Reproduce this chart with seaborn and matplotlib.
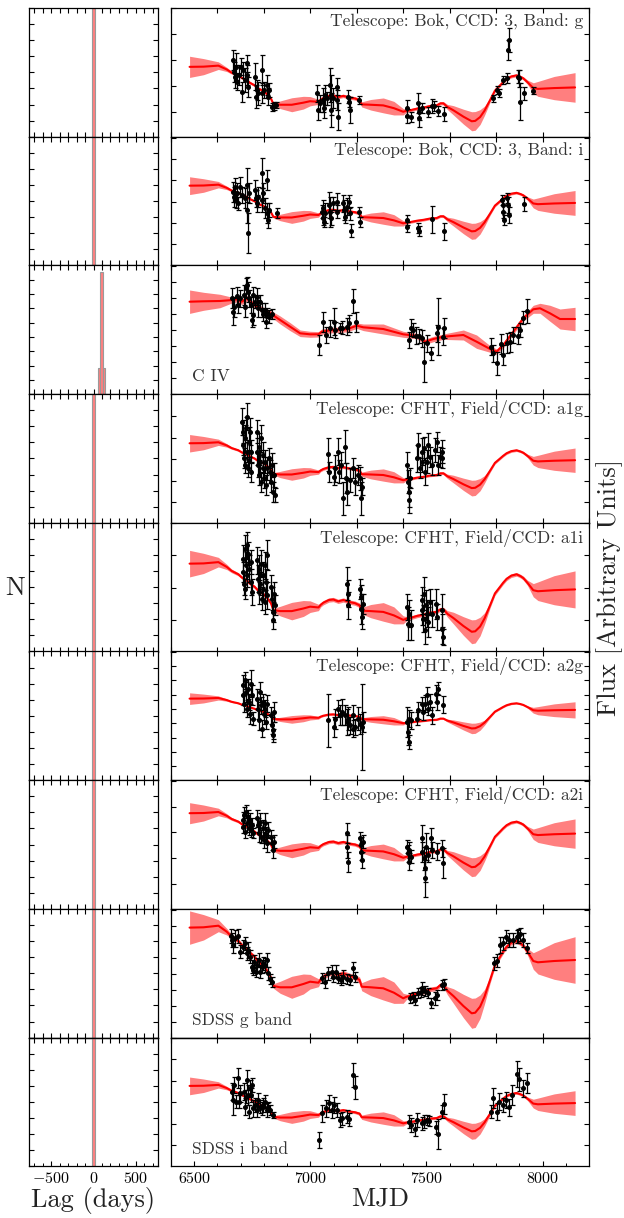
import numpy as np
import pandas as pd
import matplotlib
matplotlib.use("Agg")
import matplotlib.pyplot as plt
from matplotlib.ticker import MultipleLocator, NullFormatter
import seaborn as sns

# ---------------- driving continuum model (mean, 1-sigma), SDSS g flux units ----------------
model_mjd = [6480, 6540, 6604, 6640, 6661, 6690, 6705, 6725, 6740, 6760, 6776, 6795, 6812, 6830, 6841,
             6870, 6920, 6970, 6999, 7035, 7045, 7056, 7080, 7099, 7120, 7142, 7170, 7192, 7212, 7221,
             7260, 7314, 7360, 7400, 7415, 7429, 7460, 7487, 7515, 7544, 7560, 7573, 7590, 7616, 7659,
             7695, 7710, 7731, 7750, 7774, 7795, 7817, 7830, 7845, 7865, 7888, 7905, 7917, 7935, 7960,
             7980, 8050, 8140]
model_flux = [11.00, 11.03, 11.19, 10.59, 10.09, 9.66, 9.26, 8.93, 8.49, 8.09, 7.59, 7.26, 6.76, 6.03, 5.16,
              5.03, 5.03, 5.36, 5.59, 5.49, 5.83, 6.09, 6.43, 6.49, 6.26, 6.43, 6.16, 6.03, 5.76, 5.09,
              5.03, 4.93, 4.49, 3.93, 4.09, 4.16, 4.43, 4.59, 4.83, 4.93, 5.26, 5.26, 4.69, 4.16, 3.16,
              2.43, 2.49, 3.09, 4.09, 5.76, 7.26, 8.09, 8.59, 9.09, 9.49, 9.66, 9.43, 9.19, 8.59, 7.66,
              7.53, 7.66, 7.76]
model_sigma = [1.67, 1.27, 0.60, 0.33, 0.23, 0.20, 0.20, 0.20, 0.20, 0.20, 0.20, 0.20, 0.20, 0.20, 0.23,
               0.60, 1.10, 1.00, 0.73, 0.40, 0.27, 0.27, 0.27, 0.27, 0.27, 0.27, 0.27, 0.27, 0.30, 0.40,
               0.83, 1.17, 1.07, 0.50, 0.25, 0.23, 0.23, 0.23, 0.23, 0.23, 0.23, 0.25, 0.40, 0.73, 1.17,
               1.50, 1.47, 1.17, 0.73, 0.33, 0.25, 0.23, 0.23, 0.23, 0.23, 0.23, 0.23, 0.25, 0.33, 0.83,
               1.17, 1.83, 2.33]

# ---------------- C IV line model ----------------
civ_model_mjd = [6480, 6540, 6611, 6661, 6683, 6705, 6726, 6755, 6783, 6827, 6870, 6913, 6956, 6999, 7035,
                 7049, 7085, 7157, 7200, 7228, 7314, 7400, 7458, 7494, 7530, 7573, 7659, 7716, 7774, 7802,
                 7831, 7874, 7917, 7960, 7989, 8032, 8075, 8140]
civ_model_flux = [9.24, 9.28, 9.31, 9.40, 9.48, 9.24, 9.58, 8.98, 8.58, 8.08, 7.41, 6.74, 6.08, 5.98, 5.98,
                  6.24, 6.38, 6.48, 6.84, 6.68, 6.51, 5.98, 5.81, 5.24, 5.51, 5.74, 5.91, 5.24, 4.51, 4.24,
                  4.91, 6.24, 7.58, 8.48, 8.58, 8.08, 7.51, 7.51]
civ_model_sigma = [1.17, 0.90, 0.67, 0.30, 0.27, 0.27, 0.27, 0.27, 0.27, 0.30, 0.40, 0.40, 0.33, 0.30, 0.27,
                   0.27, 0.27, 0.27, 0.27, 0.33, 0.50, 0.30, 0.27, 0.27, 0.27, 0.27, 0.50, 0.67, 0.33, 0.27,
                   0.27, 0.27, 0.27, 0.40, 0.50, 0.80, 1.00, 1.17]

# ---------------- lag posterior histograms ----------------
cont_lag_edges = [-12, 20]
cont_lag_counts = [800]
civ_lag_edges = [54, 75, 117, 138]
civ_lag_counts = [180, 856, 182]

# ---------------- photometry ----------------
bok_g_mjd = [6668, 6671, 6675, 6680, 6685, 6694, 6700, 6704, 6708, 6718, 6726, 6729, 6733, 6761, 6764,
             6769, 6776, 6790, 6794, 6800, 6812, 6816, 6820, 6833, 6843, 6852,
             7030, 7034, 7042, 7056, 7059, 7063, 7070, 7085, 7088, 7089, 7099, 7113, 7116, 7121, 7164,
             7168, 7171, 7211, 7415, 7418, 7433, 7465, 7468, 7469, 7479, 7508, 7522, 7532, 7551, 7577,
             7788, 7802, 7814, 7831, 7848, 7852, 7855, 7895, 7900, 7905, 7920, 7960]
bok_g_flux = [7.67, 6.50, 6.00, 7.00, 5.50, 6.17, 7.00, 4.50, 6.67, 5.67, 6.17, 7.34, 5.00, 6.00, 4.00,
              4.67, 4.34, 6.67, 4.34, 4.67, 5.17, 4.00, 4.67, 3.00, 3.07, 3.17,
              4.34, 2.67, 3.34, 3.67, 2.84, 4.17, 3.84, 5.17, 2.67, 4.17, 3.84, 5.00, 3.67, 2.00, 4.00,
              3.50, 2.67, 3.67, 2.84, 2.07, 2.00, 3.34, 2.50, 1.84, 2.84, 2.50, 3.07, 3.07, 2.60, 2.27,
              3.84, 4.67, 4.40, 5.67, 5.84, 8.67, 9.67, 6.00, 5.84, 3.50, 4.34, 4.60]
bok_g_err = [1.00, 1.00, 1.17, 1.33, 0.83, 1.00, 0.83, 1.00, 0.83, 1.17, 1.00, 0.83, 1.00, 1.33, 1.17,
             1.00, 1.17, 1.50, 1.00, 0.83, 1.00, 0.83, 0.67, 0.40, 0.40, 0.33,
             0.83, 1.00, 0.83, 1.17, 1.00, 1.00, 0.67, 1.67, 1.67, 2.00, 1.00, 0.83, 1.00, 1.33, 0.67,
             0.50, 1.33, 0.40, 0.83, 0.67, 0.50, 1.00, 0.83, 0.83, 0.50, 0.50, 0.67, 0.50, 0.50, 0.67,
             0.33, 0.40, 0.40, 0.40, 0.50, 1.00, 1.17, 0.67, 0.83, 1.83, 0.67, 0.33]

bok_i_mjd = [6668, 6671, 6675, 6680, 6685, 6690, 6697, 6704, 6718, 6726, 6729, 6733, 6737, 6761, 6766,
             6771, 6776, 6790, 6793, 6797, 6804, 6812, 6815, 6819, 6823, 6855,
             7049, 7053, 7056, 7059, 7063, 7082, 7085, 7089, 7096, 7113, 7116, 7142, 7146, 7149, 7156,
             7168, 7171, 7174, 7211, 7214, 7415, 7418, 7465, 7468, 7522, 7577, 7824, 7828, 7831, 7834,
             7848, 7852, 7855, 7920]
bok_i_flux = [7.37, 6.87, 7.87, 6.54, 7.20, 6.20, 7.87, 7.04, 6.70, 8.04, 5.54, 3.20, 7.20, 7.54, 6.70,
              6.20, 6.87, 9.20, 6.54, 7.20, 5.70, 8.54, 5.20, 4.54, 5.54, 5.20,
              5.37, 4.70, 5.70, 4.37, 5.20, 6.04, 5.37, 4.70, 6.20, 6.37, 5.37, 6.20, 5.54, 4.87, 5.87,
              6.37, 5.20, 3.47, 5.37, 4.37, 4.54, 3.87, 3.70, 3.47, 4.60, 3.40, 6.54, 6.04, 5.37, 4.54,
              6.70, 6.04, 5.04, 6.14]
bok_i_err = [1.00, 1.00, 0.83, 0.83, 1.00, 0.67, 1.00, 0.83, 1.00, 1.67, 1.33, 2.00, 1.00, 1.00, 0.83,
             0.83, 1.00, 1.50, 1.17, 1.00, 1.00, 1.00, 1.00, 0.83, 0.67, 0.50,
             0.67, 0.67, 0.83, 0.50, 1.00, 1.33, 1.50, 0.67, 0.67, 0.83, 0.67, 0.83, 1.00, 0.67, 0.83,
             0.67, 0.67, 0.67, 0.50, 0.50, 0.50, 0.50, 0.50, 0.50, 1.33, 0.83, 0.50, 0.67, 0.67, 0.50,
             0.50, 0.83, 0.83, 0.67]

civ_mjd = [6661, 6666, 6671, 6683, 6690, 6697, 6714, 6719, 6723, 6726, 6730, 6737, 6743, 6747, 6752,
           6754, 6762, 6772, 6776, 6783, 6790, 6798, 6805, 6809, 6815, 6823, 6833,
           7039, 7053, 7067, 7084, 7102, 7106, 7128, 7135, 7156, 7168, 7182, 7196,
           7426, 7432, 7443, 7455, 7469, 7483, 7489, 7501, 7518, 7544, 7551, 7572, 7575,
           7780, 7788, 7805, 7819, 7831, 7845, 7859, 7874, 7895, 7902, 7917, 7934]
civ_flux = [9.58, 8.24, 8.74, 9.84, 8.91, 9.58, 9.91, 8.74, 10.58, 10.91, 10.24, 9.58, 8.91, 7.41, 9.91,
            7.91, 9.24, 9.74, 8.58, 9.24, 8.41, 7.98, 8.41, 7.24, 8.08, 7.74, 7.98,
            4.91, 7.24, 5.91, 6.58, 7.24, 6.41, 6.64, 6.64, 6.74, 7.08, 9.31, 7.24,
            5.41, 6.64, 6.41, 5.84, 5.81, 5.58, 3.24, 5.08, 4.08, 6.08, 6.74, 5.74, 6.58,
            4.74, 4.08, 3.08, 4.98, 3.91, 5.08, 5.24, 5.91, 5.84, 6.41, 7.64, 8.31]
civ_err = [1.00, 1.33, 1.00, 0.83, 0.83, 0.83, 1.00, 1.00, 1.00, 0.83, 1.00, 0.83, 0.83, 0.67, 0.83,
           1.00, 0.67, 0.83, 0.83, 0.67, 0.67, 0.67, 0.67, 0.67, 0.50, 0.67, 0.50,
           1.00, 1.00, 0.83, 0.83, 1.33, 0.83, 0.50, 0.67, 0.83, 0.83, 1.17, 1.00,
           0.83, 0.83, 0.67, 0.83, 0.67, 0.83, 2.00, 0.83, 0.67, 0.83, 2.83, 0.83, 1.00,
           0.83, 0.83, 1.17, 1.00, 1.00, 1.00, 1.00, 0.83, 0.83, 0.67, 0.67, 1.17]

cfht_a1g_mjd = [6706, 6709, 6711, 6714, 6717, 6720, 6723, 6726, 6729, 6731, 6734, 6737, 6740, 6743, 6746,
                6769, 6772, 6774, 6777, 6780, 6783, 6786, 6789, 6795, 6797, 6800, 6805, 6809, 6812,
                6822, 6826, 6830, 6835, 6839, 6843, 6846,
                7077, 7082, 7102, 7106, 7120, 7125, 7130, 7139, 7149, 7153, 7159, 7171, 7185, 7192,
                7206, 7214, 7218, 7224,
                7417, 7420, 7423, 7426, 7429, 7458, 7465, 7472, 7479, 7483, 7489, 7493, 7501, 7508,
                7515, 7522, 7537, 7544, 7548, 7558, 7565, 7569]
cfht_a1g_flux = [10.11, 9.11, 7.78, 6.45, 5.78, 8.45, 9.45, 7.11, 10.61, 5.45, 8.11, 6.28, 9.11, 7.11, 5.11,
                 9.11, 7.11, 5.78, 4.78, 7.61, 6.11, 4.11, 8.45, 5.45, 6.78, 4.45, 6.11, 3.78, 5.45,
                 6.45, 5.11, 4.11, 5.78, 3.11, 4.78, 2.78,
                 6.85, 5.11, 4.61, 5.45, 7.11, 5.11, 5.78, 2.45, 7.61, 4.45, 3.11, 4.28, 5.45, 4.11,
                 4.78, 4.45, 2.45, 3.61,
                 5.78, 4.11, 3.11, 2.28, 4.45, 6.45, 7.78, 5.45, 7.11, 6.11, 7.45, 5.11, 6.11, 7.78,
                 6.61, 5.78, 7.28, 8.11, 5.78, 6.61, 7.11, 6.51]
cfht_a1g_err = [1.33, 1.17, 1.00, 1.00, 0.83, 1.33, 1.17, 1.00, 1.33, 0.83, 1.50, 1.00, 1.33, 1.17, 1.00,
                1.17, 1.33, 1.17, 1.00, 1.33, 1.17, 1.00, 1.33, 1.17, 1.33, 1.00, 1.17, 1.00, 1.17,
                1.00, 1.17, 1.00, 1.17, 1.00, 1.17, 0.67,
                1.67, 1.00, 0.83, 1.33, 1.33, 1.17, 1.33, 1.67, 1.67, 1.50, 1.33, 1.17, 1.00, 1.33,
                1.00, 1.17, 1.67, 0.83,
                1.33, 1.17, 1.50, 1.33, 1.00, 1.33, 1.17, 1.00, 1.33, 1.00, 1.17, 1.33, 1.17, 1.17,
                1.00, 1.00, 1.17, 1.00, 1.00, 1.00, 1.17, 1.00]

cfht_a1i_mjd = [6709, 6711, 6714, 6717, 6720, 6723, 6726, 6729, 6731, 6737, 6743, 6746, 6749,
                6772, 6774, 6777, 6780, 6783, 6786, 6790, 6795, 6797, 6803, 6806, 6809, 6812, 6815,
                6829, 6833, 6838, 6841, 6843, 6846,
                7156, 7161, 7163, 7214, 7217, 7219, 7222, 7225,
                7417, 7422, 7426, 7432, 7479, 7483, 7486, 7491, 7493, 7498, 7503, 7508, 7515, 7522,
                7541, 7547, 7565, 7569, 7572]
cfht_a1i_flux = [9.28, 7.95, 6.78, 10.28, 6.28, 8.62, 10.62, 7.62, 9.78, 8.28, 8.95, 6.95, 5.95,
                 9.12, 7.28, 5.95, 8.28, 6.78, 8.78, 5.28, 7.62, 6.28, 8.62, 4.95, 6.95, 9.62, 5.62,
                 6.45, 5.28, 3.95, 3.12, 5.78, 4.62,
                 6.78, 5.78, 4.62, 6.28, 5.45, 4.28, 3.45, 4.78,
                 4.45, 2.78, 3.78, 2.62, 4.12, 5.12, 3.28, 5.78, 2.12, 4.62, 3.78, 2.95, 4.95, 3.78,
                 4.78, 3.45, 4.12, 2.28, 1.45]
cfht_a1i_err = [1.33, 1.00, 1.17, 1.33, 1.00, 1.33, 1.33, 1.17, 1.17, 1.33, 1.17, 1.33, 1.33,
                1.33, 1.33, 1.17, 1.33, 1.17, 1.33, 1.17, 1.33, 1.33, 1.33, 1.17, 1.33, 1.50, 1.33,
                1.17, 1.17, 1.00, 0.83, 1.17, 1.00,
                1.67, 1.33, 1.33, 1.00, 1.17, 1.50, 1.17, 1.00,
                1.33, 1.67, 1.33, 1.50, 1.50, 1.33, 1.33, 1.67, 1.33, 1.50, 1.33, 1.50, 1.33, 1.33,
                1.50, 1.33, 1.67, 1.50, 0.83]

cfht_a2g_mjd = [6709, 6711, 6714, 6719, 6723, 6726, 6733, 6737, 6740, 6743, 6747, 6752,
                6772, 6776, 6780, 6783, 6786, 6790, 6797, 6800, 6805, 6809, 6812,
                6829, 6833, 6838, 6841, 6843,
                7077, 7102, 7106, 7120, 7128, 7135, 7149, 7156, 7163, 7171, 7182, 7185, 7192, 7206,
                7214, 7221, 7225,
                7417, 7420, 7423, 7426, 7432, 7458, 7465, 7479, 7486, 7493, 7501, 7508, 7515, 7522,
                7541, 7547, 7551, 7570]
cfht_a2g_flux = [9.49, 8.49, 7.65, 9.99, 8.82, 7.15, 9.15, 7.82, 6.65, 9.65, 8.49, 6.15,
                 8.15, 7.15, 5.99, 8.82, 7.49, 5.15, 7.82, 6.65, 7.15, 5.82, 7.65,
                 6.49, 5.49, 4.49, 4.99, 6.82,
                 5.99, 5.32, 6.15, 7.15, 6.49, 6.82, 6.49, 5.82, 6.15, 5.49, 5.15, 6.49, 5.32, 6.15,
                 5.65, 5.32, 5.82,
                 5.82, 4.82, 3.82, 6.15, 5.99, 6.15, 6.99, 7.65, 6.82, 7.65, 8.49, 7.15, 7.82, 6.49,
                 8.65, 7.82, 9.15, 7.55]
cfht_a2g_err = [1.00, 1.00, 0.83, 0.83, 1.00, 0.83, 1.00, 0.83, 1.00, 1.33, 1.00, 0.67,
                1.00, 1.00, 1.00, 1.00, 0.83, 0.83, 0.83, 1.00, 0.83, 0.67, 0.83,
                0.83, 0.83, 0.67, 0.83, 1.00,
                2.67, 1.00, 1.00, 0.83, 1.00, 1.33, 1.00, 1.33, 1.17, 0.83, 0.83, 1.00, 0.83, 1.17,
                1.00, 4.33, 1.00,
                1.50, 1.33, 0.67, 0.83, 0.83, 0.67, 0.83, 0.67, 0.83, 0.83, 0.83, 0.67, 0.83, 0.83,
                0.83, 0.83, 0.67, 0.83]

cfht_a2i_mjd = [6709, 6711, 6714, 6719, 6723, 6726, 6730, 6734, 6740, 6744, 6749, 6753,
                6772, 6776, 6780, 6783, 6787, 6795, 6800, 6805, 6809, 6812, 6816,
                6830, 6835, 6841, 6843,
                7156, 7159, 7162, 7214, 7217, 7219, 7222, 7225,
                7417, 7420, 7423, 7426, 7432, 7479, 7483, 7489, 7492, 7495, 7498, 7508, 7518, 7522,
                7544, 7569, 7572]
cfht_a2i_flux = [8.22, 8.89, 9.39, 7.72, 9.72, 8.56, 9.22, 8.06, 8.89, 7.89, 8.39, 7.56,
                 9.06, 8.39, 7.56, 8.72, 7.22, 8.06, 6.89, 8.56, 7.39, 6.56, 7.89,
                 7.22, 6.56, 5.89, 6.72,
                 7.56, 6.22, 4.72, 7.06, 6.39, 5.72, 4.89, 6.72,
                 6.22, 5.56, 4.72, 5.89, 5.22, 5.72, 7.06, 5.06, 3.06, 4.06, 6.22, 5.39, 7.06, 5.89,
                 5.72, 6.06, 4.56]
cfht_a2i_err = [0.67, 0.83, 0.83, 0.67, 0.67, 0.83, 0.67, 0.67, 0.67, 0.67, 0.67, 0.50,
                0.83, 0.67, 0.83, 0.83, 0.67, 0.83, 0.83, 1.00, 0.83, 0.83, 0.83,
                0.67, 0.67, 0.83, 0.67,
                1.00, 1.17, 1.00, 0.67, 0.83, 0.83, 0.83, 0.67,
                0.67, 0.83, 0.83, 0.83, 0.67, 1.00, 1.33, 1.17, 1.83, 1.33, 1.33, 0.67, 1.00, 0.83,
                0.83, 0.83, 1.50]

sdss_g_mjd = [6658, 6661, 6668, 6675, 6687, 6697, 6711, 6719, 6726, 6733, 6740, 6747, 6752, 6757, 6766,
              6772, 6777, 6783, 6790, 6797, 6805, 6812, 6819, 6826, 6833,
              7049, 7063, 7077, 7092, 7099, 7109, 7120, 7130, 7142, 7156, 7171, 7182, 7192,
              7429, 7440, 7450, 7465, 7475, 7483, 7493, 7508, 7518, 7537, 7544, 7569, 7575,
              7790, 7805, 7816, 7831, 7842, 7857, 7871, 7888, 7895, 7902, 7917, 7934]
sdss_g_flux = [10.16, 9.76, 9.26, 9.93, 10.16, 8.59, 9.09, 9.43, 8.43, 8.76, 8.09, 7.09, 6.76, 7.59, 6.59,
               7.26, 7.76, 6.59, 7.09, 7.43, 7.26, 7.76, 6.43, 5.83, 5.59,
               5.93, 5.59, 6.43, 6.59, 6.09, 6.59, 5.93, 5.76, 6.09, 5.83, 5.76, 6.93, 6.09,
               3.93, 4.09, 3.76, 4.43, 4.59, 4.93, 4.69, 4.43, 3.43, 3.93, 4.26, 5.26, 5.36,
               7.43, 7.69, 9.26, 9.43, 10.09, 9.76, 9.76, 10.09, 10.16, 10.33, 9.76, 8.93]
sdss_g_err = [0.67, 0.67, 0.83, 0.83, 0.67, 0.67, 0.67, 0.67, 0.67, 0.83, 0.67, 0.67, 0.50, 0.67, 0.50,
              0.67, 0.67, 0.67, 0.67, 0.67, 0.67, 0.67, 0.67, 0.50, 0.50,
              0.50, 0.67, 0.67, 0.67, 0.50, 0.67, 0.50, 0.50, 0.67, 0.50, 0.50, 0.67, 0.50,
              0.50, 0.50, 0.50, 0.50, 0.50, 0.67, 0.50, 0.50, 0.50, 0.67, 0.50, 0.50, 0.50,
              0.67, 0.67, 0.83, 0.67, 0.67, 0.67, 0.67, 0.67, 0.67, 0.67, 0.67, 0.50]

sdss_i_mjd = [6661, 6666, 6671, 6680, 6687, 6693, 6697, 6714, 6719, 6721, 6726, 6730, 6734, 6740, 6744,
              6750, 6754, 6762, 6769, 6776, 6783, 6790, 6797, 6805, 6812, 6819, 6826, 6838,
              7039, 7049, 7067, 7082, 7092, 7102, 7113, 7128, 7135, 7159, 7168, 7185, 7194,
              7426, 7432, 7450, 7460, 7479, 7489, 7501, 7512, 7541, 7548, 7565, 7575,
              7780, 7788, 7802, 7813, 7828, 7842, 7856, 7867, 7891, 7900, 7917, 7931]
sdss_i_flux = [7.46, 6.63, 8.13, 6.46, 8.80, 6.46, 7.30, 7.46, 5.96, 6.96, 8.63, 7.13, 5.46, 7.80, 7.13,
               8.13, 5.80, 6.13, 5.63, 6.63, 5.96, 5.80, 6.13, 6.46, 5.63, 5.96, 5.63, 5.13,
               2.63, 5.30, 5.80, 6.30, 5.63, 6.13, 5.63, 4.63, 4.80, 4.96, 4.70, 9.13, 7.90,
               4.46, 4.13, 3.70, 4.63, 4.30, 4.46, 4.63, 4.56, 3.90, 3.23, 5.46, 6.23,
               5.46, 6.80, 5.46, 6.46, 6.13, 6.63, 5.90, 7.13, 9.23, 8.70, 7.80, 8.30]
sdss_i_err = [0.83, 1.50, 0.83, 0.67, 1.00, 0.67, 0.83, 0.83, 0.83, 0.67, 1.00, 1.00, 0.67, 0.83, 0.67,
              0.67, 0.83, 0.67, 0.67, 0.67, 0.67, 0.67, 0.67, 0.67, 0.67, 0.50, 0.50, 0.33,
              0.83, 0.83, 0.83, 0.83, 0.83, 0.83, 0.67, 0.67, 0.67, 0.67, 0.67, 1.17, 1.17,
              0.67, 0.67, 0.67, 0.67, 0.67, 0.67, 0.50, 0.50, 0.67, 1.50, 0.67, 1.00,
              0.67, 1.00, 0.83, 0.83, 0.67, 0.83, 0.83, 1.00, 1.33, 1.17, 0.83, 1.00]

continuum = (model_mjd, model_flux, model_sigma)
civ_model = (civ_model_mjd, civ_model_flux, civ_model_sigma)
cont_lags = (cont_lag_edges, cont_lag_counts)
civ_lags = (civ_lag_edges, civ_lag_counts)

# label, label corner, data, model, (scale, offset) of the model, lag histogram, N max, y tick (step, offset)
panels = [
    ("Telescope: Bok, CCD: 3, Band: g", "top", (bok_g_mjd, bok_g_flux, bok_g_err), continuum, (0.635, 0.00), cont_lags, 800, (2.58, 2.50)),
    ("Telescope: Bok, CCD: 3, Band: i", "top", (bok_i_mjd, bok_i_flux, bok_i_err), continuum, (0.533, 2.11), cont_lags, 800, (2.13, 2.11)),
    ("C IV", "bottom", (civ_mjd, civ_flux, civ_err), civ_model, (1.0, 0.0), civ_lags, 900, (1.60, 1.58)),
    ("Telescope: CFHT, Field/CCD: a1g", "top", (cfht_a1g_mjd, cfht_a1g_flux, cfht_a1g_err), continuum, (0.523, 2.20), cont_lags, 800, (2.16, 2.05)),
    ("Telescope: CFHT, Field/CCD: a1i", "top", (cfht_a1i_mjd, cfht_a1i_flux, cfht_a1i_err), continuum, (0.795, 0.04), cont_lags, 800, (3.22, 3.18)),
    ("Telescope: CFHT, Field/CCD: a2g", "top", (cfht_a2g_mjd, cfht_a2g_flux, cfht_a2g_err), continuum, (0.348, 4.33), cont_lags, 800, (1.43, 1.39)),
    ("Telescope: CFHT, Field/CCD: a2i", "top", (cfht_a2i_mjd, cfht_a2i_flux, cfht_a2i_err), continuum, (0.630, 2.64), cont_lags, 800, (2.57, 2.52)),
    ("SDSS g band", "bottom", (sdss_g_mjd, sdss_g_flux, sdss_g_err), continuum, (1.0, 0.0), cont_lags, 800, (1.60, 1.59)),
    ("SDSS i band", "bottom", (sdss_i_mjd, sdss_i_flux, sdss_i_err), continuum, (0.530, 2.21), cont_lags, 800, (2.14, 2.13)),
]

sns.set_theme(style="ticks")
plt.rcParams.update({
    "font.family": "cmr10",
    "mathtext.fontset": "cm",
    "axes.formatter.use_mathtext": True,
    "axes.unicode_minus": True,
    "axes.edgecolor": "black",
    "axes.linewidth": 0.9,
    "xtick.color": "black",
    "ytick.color": "black",
    "text.color": "#222222",
})

W, H = 624, 1218
fig = plt.figure(figsize=(W / 100, H / 100), dpi=100)
top0, row_h = 8.0, 128.7
tick_kw = dict(direction="in", length=3.5, width=0.8, labelsize=11.5)

n = len(panels)
for i, (label, corner, data, model, (scale, offset), lags, nmax, (ystep, yoff)) in enumerate(panels):
    bottom_frac = 1 - (top0 + (i + 1) * row_h) / H
    axl = fig.add_axes([29 / W, bottom_frac, 129 / W, row_h / H])
    axr = fig.add_axes([171 / W, bottom_frac, 418 / W, row_h / H])
    last = i == n - 1

    # ---- lag histogram ----
    edges = [float(e) for e in lags[0]]
    centers = [0.5 * (a + b) for a, b in zip(edges[:-1], edges[1:])]
    hist_df = pd.DataFrame({"lag": centers, "n": lags[1]})
    sns.histplot(data=hist_df, x="lag", weights="n", bins=edges, ax=axl, color="red",
                 edgecolor="#9a9a9a", linewidth=0.8, alpha=1.0)
    for p in axl.patches:
        p.set_facecolor("#ff8080")
    axl.set_xlim(-760, 760)
    axl.set_ylim(0, nmax)
    axl.yaxis.set_major_locator(MultipleLocator(100))
    axl.yaxis.set_major_formatter(NullFormatter())
    axl.set_xlabel("")
    axl.set_ylabel("")

    # ---- light curve ----
    t = np.asarray(model[0], dtype=float)
    m = offset + scale * np.asarray(model[1])
    s = scale * np.asarray(model[2])
    axr.fill_between(t, m - s, m + s, color="red", alpha=0.5, lw=0, zorder=1)
    sns.lineplot(x=t, y=m, color="red", lw=1.5, ax=axr, zorder=2, legend=False)
    axr.errorbar(data[0], data[1], yerr=data[2], fmt="o", ms=2.6, mfc="black", mec="black",
                 ecolor="black", elinewidth=0.9, capsize=1.8, capthick=0.9, zorder=3)
    axr.set_xlim(6400, 8200)
    axr.set_ylim(0, row_h / 10)
    axr.yaxis.set_major_locator(MultipleLocator(ystep, offset=yoff))
    axr.yaxis.set_major_formatter(NullFormatter())
    axr.set_xlabel("")
    axr.set_ylabel("")

    if corner == "top":
        axr.text(0.986, 0.955, label, transform=axr.transAxes, ha="right", va="top",
                 fontsize=12.5, color="#333333")
    else:
        axr.text(0.05, 0.075, label, transform=axr.transAxes, ha="left", va="bottom",
                 fontsize=12.5, color="#333333")

    for ax in (axl, axr):
        ax.tick_params(axis="y", which="both", left=True, right=True, **tick_kw)

    if not last:
        axl.xaxis.set_major_locator(MultipleLocator(100))
        axr.xaxis.set_major_locator(MultipleLocator(200))
        for ax in (axl, axr):
            ax.xaxis.set_major_formatter(NullFormatter())
            ax.tick_params(axis="x", which="both", top=True, bottom=True, **tick_kw)
    else:
        axl.xaxis.set_major_locator(MultipleLocator(500))
        axl.xaxis.set_minor_locator(MultipleLocator(100))
        axr.xaxis.set_major_locator(MultipleLocator(500))
        axr.xaxis.set_minor_locator(MultipleLocator(100))
        for ax, step in ((axl, 100), (axr, 200)):
            ax.tick_params(axis="x", which="major", top=False, bottom=True, **tick_kw)
            ax.tick_params(axis="x", which="minor", top=False, bottom=True,
                           direction="in", length=2.0, width=0.7)
            sec = ax.secondary_xaxis("top")
            sec.xaxis.set_major_locator(MultipleLocator(step))
            sec.xaxis.set_major_formatter(NullFormatter())
            sec.tick_params(axis="x", direction="in", length=3.5, width=0.8)

fig.text(15 / W, 1 - 588 / H, "N", ha="center", va="center", fontsize=19)
fig.text(93.5 / W, 1 - 1201 / H, "Lag (days)", ha="center", va="center", fontsize=19)
fig.text(380 / W, 1 - 1199 / H, "MJD", ha="center", va="center", fontsize=19)
fig.text(610 / W, 1 - 587 / H, "Flux [Arbitrary Units]", ha="center", va="center",
         rotation=90, fontsize=19)

fig.savefig("out.png", dpi=100)
